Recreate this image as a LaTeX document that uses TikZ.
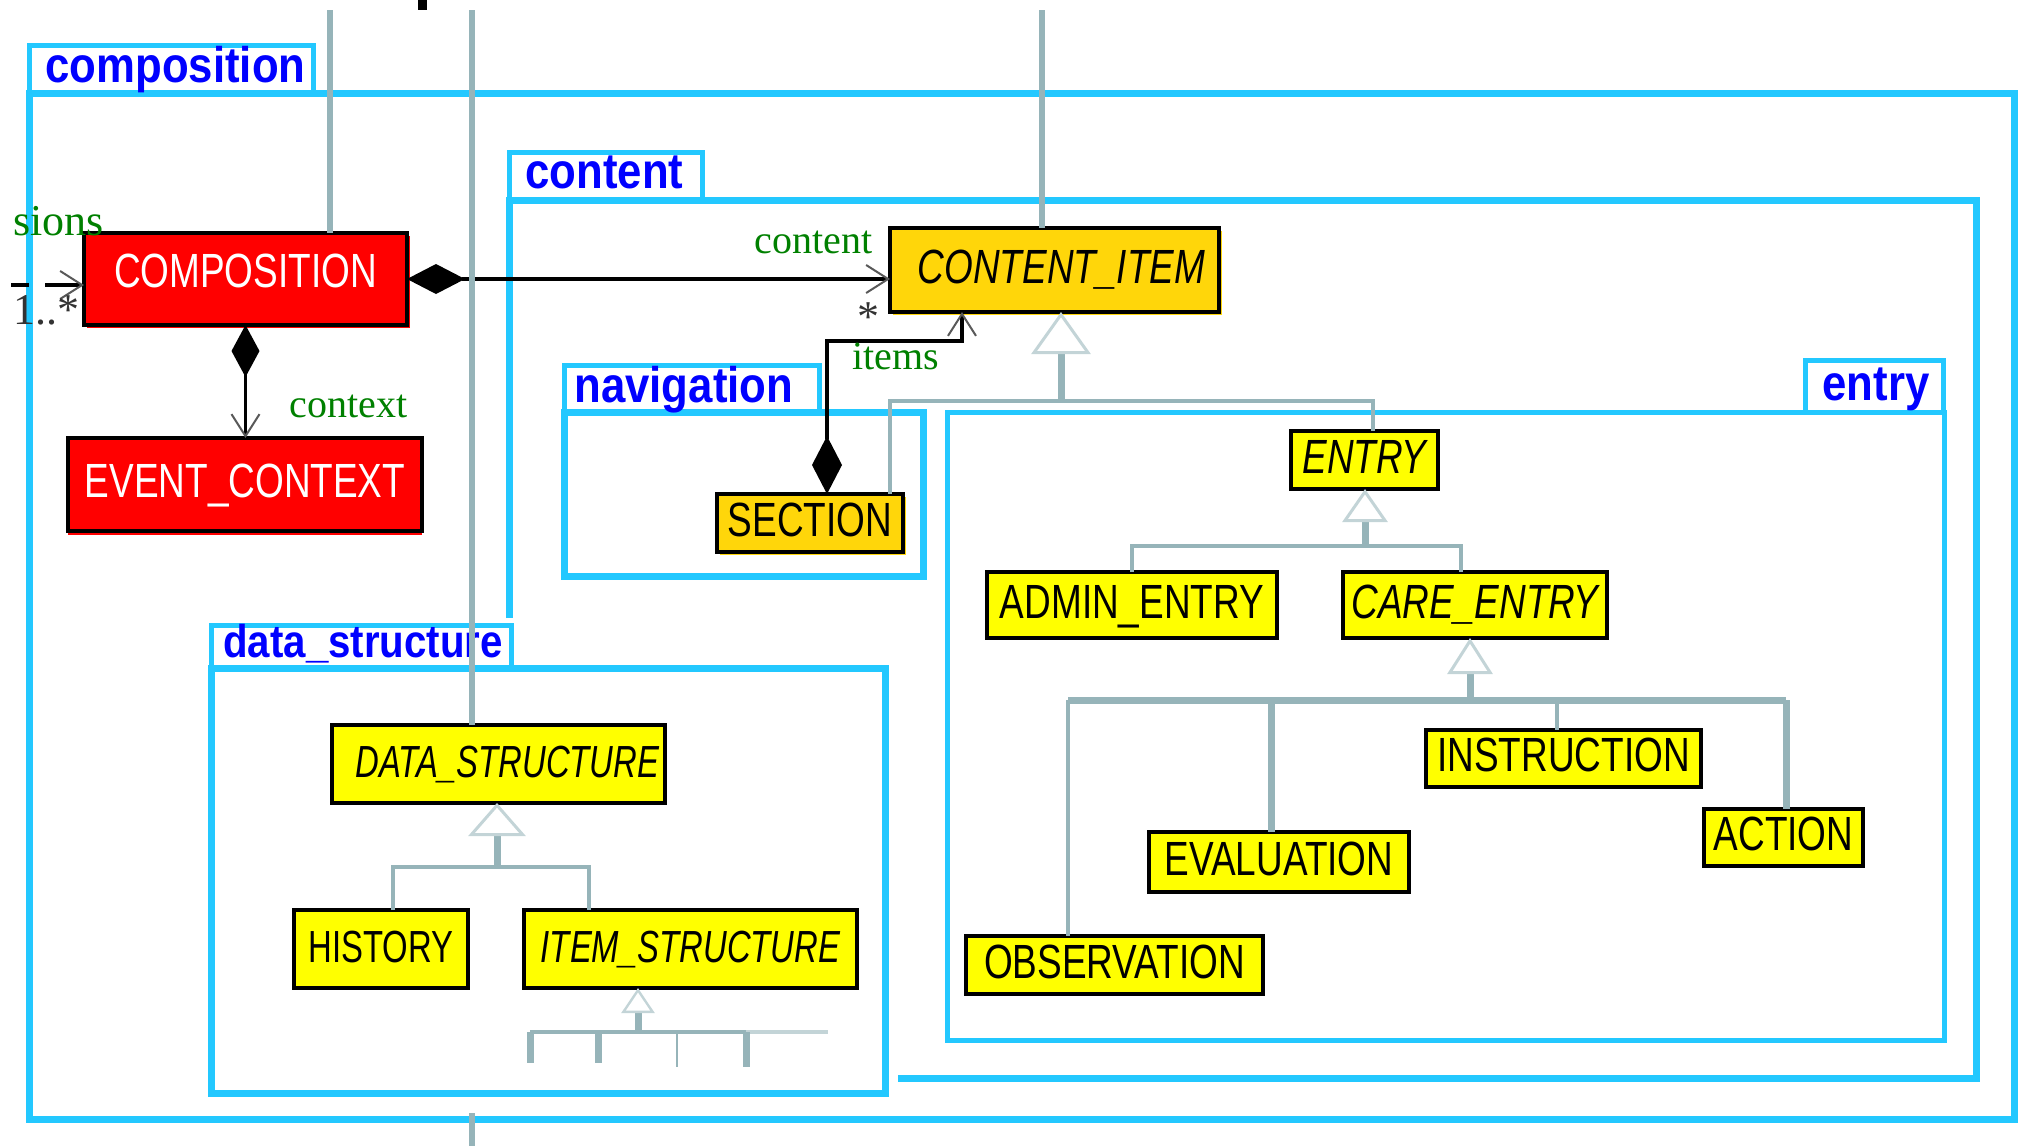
\documentclass[tikz,border=0pt]{standalone}
\usepackage{fontspec}
\setmainfont{Liberation Serif}
\newfontfamily\clsfont{Liberation Sans}[FakeStretch=0.77]
\newfontfamily\clsfontn{Liberation Sans}[FakeStretch=0.73]
\newfontfamily\pkgfont{Liberation Sans}[FakeStretch=0.875]
\usetikzlibrary{arrows.meta,shadows}
\definecolor{pkgcyan}{RGB}{35,200,255}
\definecolor{pkgblue}{RGB}{0,0,255}
\definecolor{clsred}{RGB}{255,0,0}
\definecolor{clsgold}{RGB}{255,214,10}
\definecolor{clsyellow}{RGB}{255,255,0}
\definecolor{genGray}{RGB}{150,180,185}
\definecolor{triGray}{RGB}{195,212,215}
\definecolor{roleGreen}{RGB}{0,128,0}
\newcommand{\clsbox}[7]{\node[#2, minimum width={(#5-#3)*0.5pt}, minimum height={(#6-#4)*0.5pt}] (#1) at ({(#3+#5)/2},{(#4+#6)/2}) {#7};}
\begin{document}
\begin{tikzpicture}[x=0.5pt,y=-0.5pt,
  pkgtab/.style={draw=pkgcyan, line width=2.5pt, fill=white},
  pkgbox/.style={draw=pkgcyan, line width=3.5pt},
  pkgboxthin/.style={draw=pkgcyan, line width=2.5pt},
  pkglabel/.style={text=pkgblue, inner sep=0pt, font={\pkgfont\bfseries\fontsize{25pt}{25pt}\selectfont}},
  pkglabelsmall/.style={text=pkgblue, inner sep=0pt, font={\pkgfont\bfseries\fontsize{23pt}{23pt}\selectfont}},
  clsbase/.style={draw=black, line width=2pt, inner sep=0pt, outer sep=0pt, text height=13pt, text depth=0pt, font={\clsfont\fontsize{24pt}{24pt}\selectfont}},
  redcls/.style={clsbase, fill=clsred, text=white, general shadow={fill=clsred, shadow xshift=1.5pt, shadow yshift=-1.5pt}},
  redcls2/.style={clsbase, fill=clsred, text=white, general shadow={fill=clsred, shadow yshift=-2pt}},
  goldcls/.style={clsbase, fill=clsgold, general shadow={fill=clsgold, shadow xshift=1.5pt, shadow yshift=-1.5pt}},
  yelcls/.style={clsbase, fill=clsyellow},
  abstractcls/.style={font={\clsfont\itshape\fontsize{24pt}{24pt}\selectfont}},
  narrowcls/.style={font={\clsfontn\fontsize{22.5pt}{22.5pt}\selectfont}},
  narrowabstract/.style={font={\clsfontn\itshape\fontsize{22.5pt}{22.5pt}\selectfont}},
  assoc/.style={draw=black, line width=1.6pt},
  rolelabel/.style={text=roleGreen, inner sep=0pt, font={\rmfamily\fontsize{20pt}{20pt}\selectfont}},
  multlabel/.style={text=black!80, inner sep=0pt, font={\rmfamily\fontsize{22pt}{22pt}\selectfont}},
  gthin/.style={draw=genGray, line width=2pt},
  gthick/.style={draw=genGray, line width=3.5pt},
  gvert/.style={draw=genGray, line width=3pt},
  glight/.style={draw=triGray, line width=2pt}
]
\useasboundingbox (0,0) rectangle (2020,1146);

% ---------- packages ----------
\draw[pkgtab] (29,45) rectangle (313,93);
\draw[pkgbox] (29,93) rectangle (2014,1119);
\node[pkglabel, anchor=base west] (lblcomposition) at (45,82) {composition};

\draw[pkgtab] (509,152) rectangle (702,200);
\draw[pkgbox] (509,618) -- (509,200) -- (1976,200) -- (1976,1078) -- (898,1078);
\node[pkglabel, anchor=base west] (lblcontent) at (525,188) {content};

\draw[pkgtab] (564,365) rectangle (819,412);
\draw[pkgbox] (564,412) rectangle (923,576);
\node[pkglabel, anchor=base west] (lblnavigation) at (574,402) {navigation};

\draw[pkgtab] (1805,360) rectangle (1943,412);
\draw[pkgboxthin] (947,412) rectangle (1944,1040);
\node[pkglabel, anchor=base west] (lblentry) at (1822,400) {entry};

\draw[pkgtab] (211,625) rectangle (511,668);
\draw[pkgbox] (211,668) rectangle (885,1093);
\node[pkglabelsmall, anchor=base west] (lbldata) at (223,657) {data\_structure};

% ---------- classes ----------
\clsbox{comp}{redcls,text height=8pt}{84}{233}{407}{325}{COMPOSITION}
\clsbox{evctx}{redcls2}{68}{438}{422}{531}{EVENT\_CONTEXT}
\clsbox{citem}{goldcls,abstractcls}{890}{228}{1219}{312}{\hspace*{7pt}CONTENT\_ITEM}
\clsbox{section}{goldcls}{717}{494}{903}{552}{SECTION}
\clsbox{entry}{yelcls,abstractcls}{1291}{431}{1438}{489}{ENTRY}
\clsbox{admin}{yelcls}{987}{572}{1277}{638}{ADMIN\_ENTRY}
\clsbox{care}{yelcls,abstractcls}{1343}{572}{1607}{638}{CARE\_ENTRY}
\clsbox{instr}{yelcls}{1426}{730}{1701}{787}{INSTRUCTION}
\clsbox{action}{yelcls}{1704}{809}{1863}{866}{ACTION}
\clsbox{eval}{yelcls}{1149}{832}{1409}{892}{EVALUATION}
\clsbox{obs}{yelcls}{966}{936}{1263}{994}{OBSERVATION}
\clsbox{dstruct}{yelcls,narrowabstract}{332}{725}{665}{803}{\hspace*{9pt}DATA\_STRUCTURE}
\clsbox{history}{yelcls,narrowcls}{294}{910}{468}{988}{HISTORY}
\clsbox{istruct}{yelcls,narrowabstract}{524}{910}{857}{988}{ITEM\_STRUCTURE}

% ---------- associations ----------
\draw[assoc, arrows={Diamond[length=29pt,width=15pt]-Straight Barb[length=11pt,width=14pt,line width=1pt,color=black!65]}]
  (comp.east) -- (comp.east -| citem.west);
\draw[assoc, arrows={Diamond[length=26pt,width=14pt]-Straight Barb[length=11pt,width=14pt,line width=1pt,color=black!65]}]
  (comp.south) -- (comp.south |- evctx.north);
\coordinate (it1) at (827,341);
\coordinate (it2) at (962,341);
\draw[assoc, arrows={Diamond[length=29pt,width=15pt]-Straight Barb[length=11pt,width=14pt,line width=1pt,color=black!65]}]
  (section.north -| it1) -- (it1) -- (it2) -- (it2 |- citem.south);
\coordinate (lfA) at (11,285);
\coordinate (lfB) at (29,285);
\coordinate (lfC) at (45,285);
\draw[assoc] (lfA) -- (lfB);
\draw[assoc, arrows={-Straight Barb[length=11pt,width=14pt,line width=1pt,color=black!65]}]
  (lfC) -- (lfC -| comp.west);

% ---------- generalisations ----------
\coordinate (g1s) at (1061,401);
\coordinate (g1a) at (890,401);
\coordinate (g1b) at (1373,401);
\draw[gthin] (g1a |- section.north) -- (g1a) -- (g1b) -- (g1b |- entry.north);
\draw[gthick, arrows={-Triangle[length=21pt,width=29.5pt,line width=1.5pt,color=triGray,fill=white]}]
  (g1s) -- (g1s |- citem.south);

\coordinate (g2s) at (1365,546);
\coordinate (g2a) at (1132,546);
\coordinate (g2b) at (1461,546);
\draw[gthin] (g2a |- admin.north) -- (g2a) -- (g2b) -- (g2b |- care.north);
\draw[gthick, arrows={-Triangle[length=16.5pt,width=22.5pt,line width=1.5pt,color=triGray,fill=white]}]
  (g2s) -- (g2s |- entry.south);

\coordinate (g3s) at (1470,700);
\coordinate (g3a) at (1068,700);
\coordinate (g3b) at (1271,700);
\coordinate (g3c) at (1557,700);
\coordinate (g3d) at (1786,700);
\draw[gthick] (g3a) -- (g3d);
\draw[gthin] (g3a) -- (g3a |- obs.north);
\draw[gthick] (g3b) -- (g3b |- eval.north);
\draw[gthin] (g3c) -- (g3c |- instr.north);
\draw[gthick] (g3d) -- (g3d |- action.north);
\draw[gthick, arrows={-Triangle[length=18pt,width=22.5pt,line width=1.5pt,color=triGray,fill=white]}]
  (g3s) -- (g3s |- care.south);

\coordinate (g4s) at (497,867);
\coordinate (g4a) at (393,867);
\coordinate (g4b) at (589,867);
\draw[gthin] (g4a |- history.north) -- (g4a) -- (g4b) -- (g4b |- istruct.north);
\draw[gthick, arrows={-Triangle[length=16.5pt,width=28.5pt,line width=1.5pt,color=triGray,fill=white]}]
  (g4s) -- (g4s |- dstruct.south);

\coordinate (g5s) at (638,1032);
\coordinate (g5a) at (530,1032);
\coordinate (g5b) at (598,1032);
\coordinate (g5c) at (677,1032);
\coordinate (g5d) at (746,1032);
\coordinate (g5e) at (828,1032);
\coordinate (s5a) at (530,1063);
\coordinate (s5b) at (598,1063);
\coordinate (s5c) at (677,1067);
\coordinate (s5d) at (746,1067);
\draw[gthin] (g5a) -- (g5d);
\draw[glight] (g5d) -- (g5e);
\draw[gthick] (g5a) -- (s5a);
\draw[gthick] (g5b) -- (s5b);
\draw[draw=genGray, line width=1.2pt] (g5c) -- (s5c);
\draw[gthick] (g5d) -- (s5d);
\draw[gthick, arrows={-Triangle[length=12.5pt,width=16.5pt,line width=1.2pt,color=triGray,fill=white]}]
  (g5s) -- (g5s |- istruct.south);

% ---------- lines coming from outside ----------
\coordinate (t1) at (330,10);
\coordinate (t2) at (472,10);
\coordinate (t3) at (1042,10);
\coordinate (t4) at (472,1113);
\coordinate (t5) at (472,1146);
\draw[gvert] (t1) -- (t1 |- comp.north);
\draw[gvert] (t2) -- (t2 |- dstruct.north);
\draw[gvert] (t3) -- (t3 |- citem.north);
\draw[gvert] (t4) -- (t5);
\fill[black] (418,0) rectangle (427,10);

% ---------- labels ----------
\node[rolelabel, anchor=base west] (lcontent) at (754,253) {content};
\node[rolelabel, anchor=base west] (lcontext) at (289,417) {context};
\node[rolelabel, anchor=base west] (litems) at (852,369) {items};
\node[rolelabel, anchor=base west, font={\rmfamily\fontsize{22pt}{22pt}\selectfont}] (lsions) at (13,235) {sions};
\node[multlabel, anchor=base west] (mleft) at (13,324) {1..*};
\node[multlabel, anchor=base west] (mcontent) at (857,331) {*};
\end{tikzpicture}
\end{document}
